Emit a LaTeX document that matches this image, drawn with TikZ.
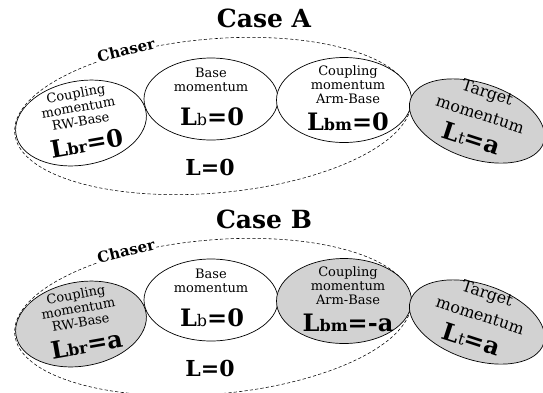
\documentclass[tikz,border=0pt]{standalone}
\usepackage{fontspec}
\setmainfont{DejaVu Serif}
\usetikzlibrary{shapes.geometric}

% momentum value: big bold L, smaller index, then "= value"
\newcommand\momval[2]{{\fontsize{24}{24}\selectfont\bfseries L}{\fontsize{16}{16}\selectfont #1}{\fontsize{24}{24}\selectfont\bfseries =#2}}

\tikzset{
  part/.style={ellipse, draw, fill=white, line width=0.7pt, inner sep=0pt},
  active/.style={part, fill=gray!35},
  chaserline/.style={ellipse, draw, dash pattern=on 3.2pt off 2.2pt, line width=0.55pt, inner sep=0pt},
  caption/.style={font=\fontsize{13}{14}\selectfont, align=center, inner sep=0pt},
  bigcaption/.style={font=\fontsize{16}{23}\selectfont, align=center, inner sep=0pt},
  eqn/.style={inner sep=0pt},
  total/.style={font=\fontsize{22}{22}\selectfont\bfseries, inner sep=0pt},
  title/.style={font=\fontsize{25}{25}\selectfont\bfseries, inner sep=0pt},
  tag/.style={font=\fontsize{15}{15}\selectfont\bfseries, fill=white, inner sep=1pt}
}

% one case: #1 vertical offset, #2 letter, #3/#4 RW-Base style/value, #5/#6 Arm-Base style/value
\newcommand\drawcase[6]{%
\begin{scope}[shift={(0,#1)}]
  \node[title] (title#2) at (264,18) {Case #2};
  \node[chaserline, minimum width=398pt, minimum height=154pt, rotate=5] (chaser#2) at (213,116) {};
  \node[tag, rotate=14] (tag#2) at (126,50) {Chaser};
  % coupling momentum between reaction wheels and base
  \begin{scope}[shift={(81,123)}, rotate=10, transform shape]
    \node[#3, minimum width=132pt, minimum height=84pt] (rw#2) at (0,0) {};
    \node[caption] (rwtext#2) at (0,-16) {Coupling\\momentum\\RW-Base};
    \node[eqn] (rweq#2) at (2,21) {\momval{\bfseries br}{#4}};
  \end{scope}
  % base momentum
  \node[part, minimum width=134pt, minimum height=82pt] (base#2) at (211,99) {};
  \node[caption] (basetext#2) at (211,80) {Base\\momentum};
  \node[eqn] (baseeq#2) at (212,117) {\momval{b}{0}};
  % coupling momentum between arm and base
  \node[#5, minimum width=135pt, minimum height=85pt] (arm#2) at (344,100) {};
  \node[caption] (armtext#2) at (348,85) {Coupling\\momentum\\Arm-Base};
  \node[eqn] (armeq#2) at (348,122) {\momval{\bfseries bm}{#6}};
  % total momentum of the chaser
  \node[total] (sum#2) at (210,167) {L=0};
  % target momentum
  \begin{scope}[shift={(477,121)}, rotate=-18, transform shape]
    \node[active, minimum width=140pt, minimum height=76pt] (target#2) at (0,0) {};
    \node[bigcaption] (targettext#2) at (1,-19) {Target\\momentum};
    \node[eqn] (targeteq#2) at (0,18) {\momval{t}{a}};
  \end{scope}
\end{scope}}

\begin{document}
\begin{tikzpicture}[x=1pt, y=-1pt]
  \useasboundingbox (0,0) rectangle (543,392);
  \drawcase{0}{A}{part}{0}{part}{0}
  \drawcase{201}{B}{active}{a}{active}{-a}
\end{tikzpicture}
\end{document}
